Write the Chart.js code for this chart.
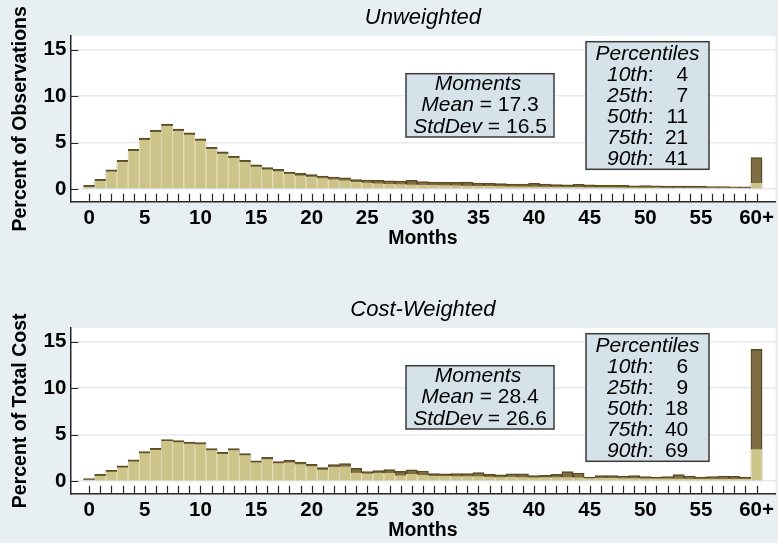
<!DOCTYPE html>
<html>
<head>
<meta charset="utf-8">
<script src="https://cdn.jsdelivr.net/npm/chart.js@4.4.1/dist/chart.umd.min.js"></script>
<style>
  html, body { margin: 0; padding: 0; background: #e8eff2; overflow: hidden; }
  #wrap { position: relative; width: 778px; height: 543px; overflow: hidden; }
  canvas { position: absolute; left: 0; display: block; }
  #top-panel { top: 0; }
  #bottom-panel { top: 292px; }
</style>
</head>
<body>
<div id="wrap">
  <canvas id="top-panel" width="778" height="292"></canvas>
  <canvas id="bottom-panel" width="778" height="292"></canvas>
</div>
<script>
// months 0..59, last bin is 60+
const months = [0,1,2,3,4,5,6,7,8,9,10,11,12,13,14,15,16,17,18,19,20,21,22,23,24,25,26,27,28,29,
    30,31,32,33,34,35,36,37,38,39,40,41,42,43,44,45,46,47,48,49,50,51,52,53,54,55,56,57,58,59,60];
const xTickValues = [0,5,10,15,20,25,30,35,40,45,50,55,60];
const xTickLabels = ['0','5','10','15','20','25','30','35','40','45','50','55','60+'];
const yTickValues = [0,5,10,15];

// Unweighted (percent of observations)
const unweightedLight = [0.22,0.86,1.87,2.91,4.08,5.27,6.13,6.78,6.25,5.84,5.20,4.30,3.80,3.33,2.90,2.40,
    2.10,1.90,1.62,1.45,1.32,1.15,1.03,0.92,0.75,0.68,0.60,0.55,0.50,0.48,0.45,0.42,0.40,0.38,0.36,
    0.33,0.32,0.30,0.28,0.27,0.26,0.25,0.24,0.22,0.22,0.20,0.19,0.18,0.17,0.16,0.16,0.15,0.14,0.14,
    0.13,0.13,0.12,0.12,0.11,0.11,0.65];
const unweightedDark = [0.40,1.04,2.05,3.09,4.28,5.47,6.33,6.98,6.44,6.04,5.39,4.49,3.99,3.52,3.09,2.59,
    2.30,2.12,1.83,1.69,1.55,1.40,1.29,1.19,1.01,0.97,0.93,0.88,0.86,0.93,0.79,0.74,0.72,0.72,0.74,
    0.63,0.60,0.58,0.52,0.52,0.62,0.52,0.48,0.44,0.50,0.44,0.40,0.38,0.38,0.34,0.36,0.33,0.30,0.30,
    0.30,0.29,0.27,0.27,0.24,0.22,3.38];

// Cost-weighted (percent of total cost)
const costLight = [0.10,0.55,1.00,1.45,2.10,3.00,3.35,4.30,4.18,4.00,3.96,3.30,2.90,3.30,2.78,2.00,
    2.35,1.90,2.00,1.80,1.58,1.20,1.50,1.55,0.90,0.80,0.85,0.85,0.60,0.75,0.65,0.55,0.55,0.50,0.50,
    0.50,0.45,0.40,0.45,0.40,0.38,0.40,0.40,0.40,0.38,0.30,0.32,0.32,0.30,0.30,0.28,0.27,0.27,0.27,
    0.25,0.24,0.24,0.24,0.23,0.22,3.42];
const costDark = [0.25,0.72,1.15,1.62,2.27,3.17,3.53,4.47,4.36,4.18,4.14,3.49,3.10,3.49,2.96,2.18,
    2.56,2.09,2.23,2.02,1.80,1.44,1.77,1.87,1.37,1.01,1.12,1.22,1.05,1.20,1.08,0.79,0.77,0.79,0.79,
    0.90,0.72,0.65,0.76,0.76,0.57,0.61,0.72,1.00,0.86,0.43,0.57,0.57,0.54,0.57,0.47,0.43,0.47,0.68,
    0.54,0.43,0.47,0.54,0.50,0.43,14.17];

const unweightedMoments = [['Mean', '17.3'], ['StdDev', '16.5']];
const unweightedPctiles = [['10th', '4'], ['25th', '7'], ['50th', '11'], ['75th', '21'], ['90th', '41']];
const costMoments = [['Mean', '28.4'], ['StdDev', '26.6']];
const costPctiles = [['10th', '6'], ['25th', '9'], ['50th', '18'], ['75th', '40'], ['90th', '69']];

const FONT = 'Arial, "Liberation Sans", Helvetica, sans-serif';
const PAGE_BG = '#e8eff2';
const AXIS_COLOR = '#262626';
const LIGHT_FILL = '#cdc489';
const LIGHT_EDGE = '#e4dfbb';
const DARK_FILL = '#7f6d44';
const DARK_EDGE = '#5b4a22';
const BOX_FILL = '#d6e2ea';

const plotBg = {
    id: 'plotBg',
    beforeDraw(chart) {
        const {ctx, chartArea: a, width, height} = chart;
        ctx.save();
        ctx.fillStyle = PAGE_BG;
        ctx.fillRect(0, 0, width, height);
        ctx.fillStyle = '#ffffff';
        ctx.fillRect(a.left, a.top, a.right - a.left, a.bottom - a.top);
        ctx.restore();
    }
};

// tick marks point into the plot, like the stata original
const innerTicks = {
    id: 'innerTicks',
    afterDatasetsDraw(chart) {
        const {ctx, chartArea: a, scales: {x, y}} = chart;
        ctx.save();
        ctx.strokeStyle = AXIS_COLOR;
        ctx.lineWidth = 1.2;
        ctx.beginPath();
        months.forEach(m => {
            const px = Math.round(x.getPixelForValue(m)) + 0.5;
            ctx.moveTo(px, a.bottom);
            ctx.lineTo(px, a.bottom - 8);
        });
        yTickValues.forEach(v => {
            const py = Math.round(y.getPixelForValue(v)) + 0.5;
            ctx.moveTo(a.left, py);
            ctx.lineTo(a.left + 8, py);
        });
        ctx.stroke();
        ctx.restore();
    }
};

function drawBox(ctx, x, y, w, h) {
    ctx.fillStyle = BOX_FILL;
    ctx.fillRect(x, y, w, h);
    ctx.strokeStyle = '#3a3a3a';
    ctx.lineWidth = 1.5;
    ctx.strokeRect(x, y, w, h);
}

function makeStatBoxes(moments, pctiles) {
    const italic = 'italic 21px ' + FONT;
    const regular = '21px ' + FONT;
    return {
        id: 'statBoxes',
        afterDraw(chart) {
            const {ctx, chartArea: a} = chart;
            ctx.save();
            ctx.textBaseline = 'middle';

            // Moments box
            const mx = a.left + 335.7, my = a.top + 37.7, mw = 148, mh = 63.3;
            drawBox(ctx, mx, my, mw, mh);
            const cx = mx + mw / 2;
            ctx.fillStyle = '#000';
            ctx.font = italic;
            ctx.textAlign = 'center';
            ctx.fillText('Moments', cx - 2, my + 10.8);
            ctx.textAlign = 'left';
            moments.forEach(([name, val], i) => {
                const ty = my + 31.8 + 21.3 * i;
                const rest = ' = ' + val;
                ctx.font = italic;
                const w1 = ctx.measureText(name).width;
                ctx.font = regular;
                const w2 = ctx.measureText(rest).width;
                const x0 = cx - (w1 + w2) / 2;
                ctx.font = italic;
                ctx.fillText(name, x0, ty);
                ctx.font = regular;
                ctx.fillText(rest, x0 + w1, ty);
            });

            // Percentiles box
            const px = a.left + 515.7, py = a.top + 5.7, pw = 123, ph = 127.6;
            drawBox(ctx, px, py, pw, ph);
            ctx.fillStyle = '#000';
            ctx.font = italic;
            ctx.textAlign = 'center';
            ctx.fillText('Percentiles', px + pw / 2, py + 12.3);
            pctiles.forEach(([name, val], i) => {
                const ty = py + 33.8 + 21 * i;
                ctx.textAlign = 'left';
                ctx.font = italic;
                ctx.fillText(name, px + 21, ty);
                const w = ctx.measureText(name).width;
                ctx.font = regular;
                ctx.fillText(':', px + 21 + w, ty);
                ctx.textAlign = 'right';
                ctx.fillText(val, px + 102.3, ty);
            });
            ctx.restore();
        }
    };
}

function makePanel(canvasId, title, yTitle, light, dark, moments, pctiles) {
    const toPoints = vals => months.map((m, i) => ({x: m, y: vals[i]}));
    const tickFont = {family: FONT, size: 20.5, weight: 'bold'};
    const titleFont = {family: FONT, size: 19.5, weight: 'bold'};

    return new Chart(document.getElementById(canvasId), {
        type: 'bar',
        data: {
            datasets: [
                {
                    label: 'light',
                    data: toPoints(light),
                    backgroundColor: LIGHT_FILL,
                    borderColor: LIGHT_EDGE,
                    borderWidth: {left: 1, right: 1, top: 0, bottom: 0},
                    borderSkipped: false,
                    grouped: false,
                    barPercentage: 1,
                    categoryPercentage: 1,
                    order: 1
                },
                {
                    label: 'dark',
                    data: toPoints(dark),
                    backgroundColor: DARK_FILL,
                    borderColor: DARK_EDGE,
                    borderWidth: 1.5,
                    grouped: false,
                    barPercentage: 1,
                    categoryPercentage: 1,
                    order: 2
                }
            ]
        },
        options: {
            responsive: false,
            animation: false,
            devicePixelRatio: 1,
            layout: {padding: {left: 8.6, right: 0, top: 0, bottom: 41.6}},
            plugins: {
                legend: {display: false},
                tooltip: {enabled: false},
                title: {
                    display: true,
                    text: title,
                    fullSize: false,
                    color: '#000',
                    font: {family: FONT, size: 22, style: 'italic', weight: 'normal'},
                    padding: {top: 5, bottom: 4.6}
                }
            },
            scales: {
                x: {
                    type: 'linear',
                    offset: false,
                    min: -1.7,
                    max: 61.7,
                    afterBuildTicks: s => { s.ticks = months.map(v => ({value: v})); },
                    afterFit: s => { s.height = 48.7; },
                    grid: {display: false, drawTicks: false, offset: false},
                    border: {display: true, color: AXIS_COLOR, width: 1.5},
                    ticks: {
                        autoSkip: false,
                        maxRotation: 0,
                        padding: 4,
                        color: '#000',
                        font: tickFont,
                        callback: v => {
                            const i = xTickValues.indexOf(v);
                            return i >= 0 ? xTickLabels[i] : '';
                        }
                    },
                    title: {display: true, text: 'Months', color: '#000', font: titleFont, padding: 0}
                },
                y: {
                    min: -1.37,
                    max: 16.48,
                    afterBuildTicks: s => { s.ticks = yTickValues.map(v => ({value: v})); },
                    afterFit: s => { s.width = 61.7; },
                    grid: {color: '#e3ebef', lineWidth: 1.5, drawTicks: false},
                    border: {display: true, color: AXIS_COLOR, width: 1.5},
                    ticks: {padding: 4, color: '#000', font: tickFont},
                    title: {display: true, text: yTitle, color: '#000', font: titleFont, padding: 0}
                }
            }
        },
        plugins: [plotBg, innerTicks, makeStatBoxes(moments, pctiles)]
    });
}

makePanel('top-panel', 'Unweighted', 'Percent of Observations',
    unweightedLight, unweightedDark, unweightedMoments, unweightedPctiles);
makePanel('bottom-panel', 'Cost-Weighted', 'Percent of Total Cost',
    costLight, costDark, costMoments, costPctiles);
</script>
</body>
</html>
